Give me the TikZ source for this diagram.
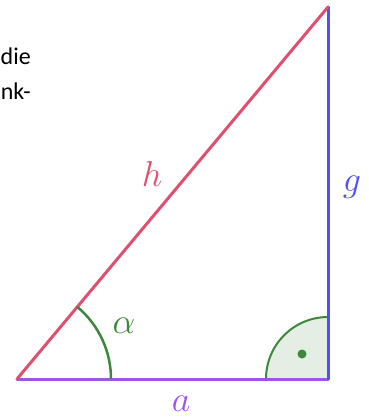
\RequirePackage{fix-cm}
\documentclass[tikz,border=0pt]{standalone}
\usepackage{fontspec}
\usetikzlibrary{calc}
\newfontfamily\txtfont{Carlito}
\definecolor{hred}{RGB}{224,80,110}
\definecolor{gblue}{RGB}{80,80,245}
\definecolor{apurple}{RGB}{155,85,235}
\definecolor{agreen}{RGB}{60,135,60}
\definecolor{afill}{RGB}{228,238,228}
\tikzset{
  side/.style={line width=3pt, line cap=round},
  anglearc/.style={agreen, line width=2.5pt},
  rightarc/.style={agreen, line width=2pt, fill=afill},
  lab/.style={inner sep=0pt, font=\fontsize{36}{40}\selectfont},
  para/.style={inner sep=0pt, anchor=base east, font=\txtfont\fontsize{24}{28}\selectfont},
}
\begin{document}
\begin{tikzpicture}[x=1pt,y=-1pt]
\useasboundingbox (0,0) rectangle (368,419);
\coordinate (A) at (17,379);
\coordinate (B) at (328,379);
\coordinate (C) at (328,7);
% right angle
\draw[rightarc] (B) -- ++(-62,0) arc[start angle=180, end angle=270, radius=62] -- cycle;
\fill[agreen] (302,354) circle (4.5);
% sides
\draw[side, apurple] (A) -- (B);
\draw[side, gblue] (B) -- (C);
\draw[side, hred] (A) -- (C);
% alpha arc
\draw[anglearc] ($(A)+(94,0)$) arc[start angle=0, end angle=-50.1, radius=94];
% labels
\node[lab, text=hred] (h) at (152,174) {$h$};
\node[lab, text=gblue] (g) at (352,187) {$g$};
\node[lab, text=apurple] (a) at (181,404) {$a$};
\node[lab, text=agreen] (al) at (124,326) {$\alpha$};
% paragraph fragments
\node[para] (t1) at (31,65) {die};
\node[para] (t2) at (31,100) {nk-};
\end{tikzpicture}
\end{document}
